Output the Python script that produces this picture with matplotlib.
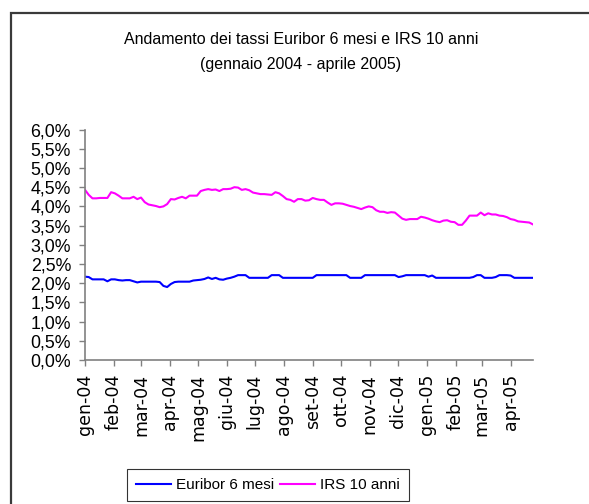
import matplotlib
matplotlib.use("Agg")
import matplotlib.pyplot as plt
import matplotlib.dates as mdates
import matplotlib.patches as patches
from matplotlib.ticker import FixedLocator, FuncFormatter
import pandas as pd

# --- dati (un punto ogni 4 giorni)
date_serie = pd.date_range("2004-01-01", periods=121, freq="4D")

irs_10_anni = [
    4.43, 4.30, 4.21, 4.21, 4.22, 4.22, 4.22, 4.37, 4.34, 4.28,
    4.21, 4.21, 4.21, 4.25, 4.19, 4.23, 4.11, 4.05, 4.03, 4.01,
    3.98, 4.00, 4.06, 4.19, 4.18, 4.22, 4.25, 4.21, 4.28, 4.28,
    4.28, 4.40, 4.43, 4.45, 4.43, 4.44, 4.40, 4.45, 4.45, 4.46,
    4.50, 4.49, 4.43, 4.45, 4.42, 4.36, 4.34, 4.32, 4.32, 4.31,
    4.30, 4.37, 4.34, 4.27, 4.19, 4.17, 4.12, 4.19, 4.19, 4.15,
    4.16, 4.22, 4.19, 4.17, 4.17, 4.10, 4.04, 4.08, 4.08, 4.07,
    4.04, 4.01, 3.99, 3.96, 3.93, 3.97, 4.00, 3.98, 3.90, 3.86,
    3.86, 3.83, 3.85, 3.84, 3.76, 3.68, 3.65, 3.67, 3.67, 3.67,
    3.73, 3.71, 3.68, 3.64, 3.61, 3.59, 3.63, 3.64, 3.60, 3.59,
    3.52, 3.52, 3.63, 3.76, 3.76, 3.76, 3.84, 3.77, 3.82, 3.79,
    3.79, 3.76, 3.75, 3.72, 3.67, 3.65, 3.61, 3.60, 3.59, 3.58,
    3.53,
]

euribor_6_mesi = [
    2.17, 2.16, 2.10, 2.10, 2.10, 2.10, 2.05, 2.10, 2.10, 2.08,
    2.07, 2.08, 2.08, 2.05, 2.02, 2.04, 2.04, 2.04, 2.04, 2.04,
    2.03, 1.93, 1.90, 1.98, 2.03, 2.04, 2.04, 2.04, 2.04, 2.07,
    2.08, 2.09, 2.11, 2.15, 2.11, 2.14, 2.10, 2.09, 2.12, 2.14,
    2.17, 2.21, 2.21, 2.21, 2.14, 2.14, 2.14, 2.14, 2.14, 2.14,
    2.21, 2.21, 2.21, 2.14, 2.14, 2.14, 2.14, 2.14, 2.14, 2.14,
    2.14, 2.14, 2.21, 2.21, 2.21, 2.21, 2.21, 2.21, 2.21, 2.21,
    2.21, 2.14, 2.14, 2.14, 2.14, 2.21, 2.21, 2.21, 2.21, 2.21,
    2.21, 2.21, 2.21, 2.21, 2.16, 2.18, 2.21, 2.21, 2.21, 2.21,
    2.21, 2.21, 2.17, 2.20, 2.14, 2.14, 2.14, 2.14, 2.14, 2.14,
    2.14, 2.14, 2.14, 2.14, 2.16, 2.21, 2.21, 2.14, 2.14, 2.14,
    2.16, 2.21, 2.21, 2.21, 2.20, 2.14, 2.14, 2.14, 2.14, 2.14,
    2.14,
]

inizio_mesi = pd.date_range("2004-01-01", "2005-04-01", freq="MS")
etichette_mesi = [
    "gen-04", "feb-04", "mar-04", "apr-04", "mag-04", "giu-04", "lug-04", "ago-04",
    "set-04", "ott-04", "nov-04", "dic-04", "gen-05", "feb-05", "mar-05", "apr-05",
]

font_testo = ["Liberation Sans", "DejaVu Sans"]

fig = plt.figure(figsize=(5.89, 5.04), dpi=100)
W, H = 589, 504

# cornice esterna (tagliata a destra e in basso)
fig.patches.append(patches.Rectangle((11 / W, -0.2), 1.2, 1 - 13 / H + 0.2,
                                     transform=fig.transFigure, fill=False,
                                     edgecolor="#3a3a3a", linewidth=1.6))

ax = fig.add_axes([85 / W, 1 - 360 / H, (533 - 85) / W, (360 - 129.6) / H])

ax.plot(date_serie, euribor_6_mesi, color="#0000FF", linewidth=1.5, label="Euribor 6 mesi")
ax.plot(date_serie, irs_10_anni, color="#FF00FF", linewidth=1.5, label="IRS 10 anni")

ax.set_xlim(date_serie[0], date_serie[-1])
ax.set_ylim(0, 6)
ax.yaxis.set_major_locator(FixedLocator([i * 0.5 for i in range(13)]))
ax.yaxis.set_major_formatter(FuncFormatter(lambda v, p: f"{v:.1f}%".replace(".", ",")))

ax.set_xticks(mdates.date2num(inizio_mesi))
ax.set_xticklabels(etichette_mesi, rotation=90, fontsize=12.5, family="DejaVu Sans")

for lab in ax.get_yticklabels():
    lab.set_family(font_testo)
    lab.set_fontsize(12.8)

for s in ["top", "right"]:
    ax.spines[s].set_visible(False)
for s in ["left", "bottom"]:
    ax.spines[s].set_color("#808080")
    ax.spines[s].set_linewidth(1.2)
ax.tick_params(axis="both", color="#808080", length=4, width=1.0)
ax.tick_params(axis="y", pad=6)
ax.tick_params(axis="x", pad=6)

# titolo su due righe
fig.text(301 / W, 1 - 40 / H, "Andamento dei tassi Euribor 6 mesi e IRS 10 anni",
         ha="center", va="center", fontsize=11.5, family=font_testo)
fig.text(301 / W, 1 - 65 / H, "(gennaio 2004 - aprile 2005)",
         ha="center", va="center", fontsize=11.5, family=font_testo)

leg = fig.legend(loc="upper left", bbox_to_anchor=(127 / W, 1 - 469 / H), ncol=2,
                 frameon=True, fancybox=False, handlelength=2.3, handletextpad=0.3,
                 columnspacing=0.4, borderpad=0.6, borderaxespad=0,
                 prop={"family": font_testo, "size": 11})
leg.get_frame().set_edgecolor("#000000")
leg.get_frame().set_linewidth(0.8)

fig.savefig("out.png", dpi=100)
